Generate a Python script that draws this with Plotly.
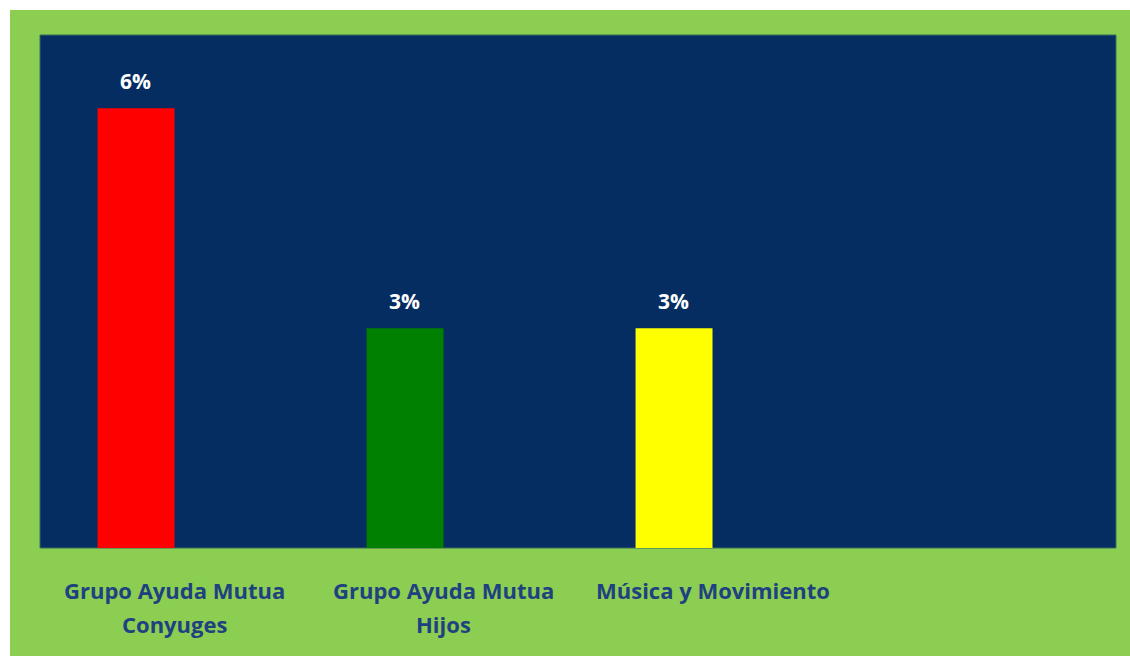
import plotly.graph_objects as go

categories = ["Grupo Ayuda Mutua<br>Conyuges", "Grupo Ayuda Mutua<br>Hijos", "Música y Movimiento", " "]
values = [6, 3, 3, None]
labels = ["6%", "3%", "3%", ""]
bar_colors = ["#FF0000", "#008000", "#FFFF00", "#FF0000"]

W, H = 1130, 656
L, T, R, B = 40, 35, 14, 108
pw, ph = W - L - R, H - T - B
FONT = "Open Sans, Lato, sans-serif"
BAR_W = 0.286

def px_x(p):
    return (p - L) / pw

def px_y(p):
    return (H - B - p) / ph

fig = go.Figure()
fig.add_trace(go.Bar(
    x=categories, y=values,
    marker=dict(color=bar_colors, line=dict(width=0)),
    width=BAR_W, offset=-BAR_W, cliponaxis=False, hoverinfo="x+y",
))

annotations = []
for cat, val, lab in zip(categories, values, labels):
    if val is not None and lab:
        annotations.append(dict(
            x=cat, y=val, xref="x", yref="y", text="<b>%s</b>" % lab,
            showarrow=False, yanchor="middle", yshift=27, xshift=-39,
            font=dict(color="white", size=21, family=FONT),
        ))
    for i, line in enumerate(cat.split("<br>")):
        if not line.strip():
            continue
        annotations.append(dict(
            x=cat, y=0, xref="x", yref="y", text="<b>%s</b>" % line,
            showarrow=False, yanchor="middle", yshift=-42 - 34 * i,
            font=dict(color="#1F4180", size=22, family=FONT),
        ))

fig.update_layout(
    width=W, height=H,
    margin=dict(l=L, r=R, t=T, b=B),
    paper_bgcolor="white",
    plot_bgcolor="rgba(0,0,0,0)",
    showlegend=False,
    font=dict(family=FONT),
    annotations=annotations,
    shapes=[
        dict(type="rect", xref="paper", yref="paper",
             x0=px_x(10), x1=px_x(1140), y0=px_y(670), y1=px_y(10),
             fillcolor="#8BCE52", line=dict(width=0), layer="below"),
        dict(type="rect", xref="paper", yref="paper",
             x0=0, x1=1, y0=0, y1=1,
             fillcolor="#052D62", line=dict(width=1, color="#3F6A5A"), layer="below"),
    ],
)
fig.update_xaxes(showgrid=False, zeroline=False, showline=False,
                 showticklabels=False, ticks="")
fig.update_yaxes(range=[0, 7], showgrid=False, zeroline=False,
                 showticklabels=False, showline=False)

fig.write_html("out.html", config={"displayModeBar": False},
               post_script="document.body.style.margin='0';document.body.style.overflow='hidden';")
